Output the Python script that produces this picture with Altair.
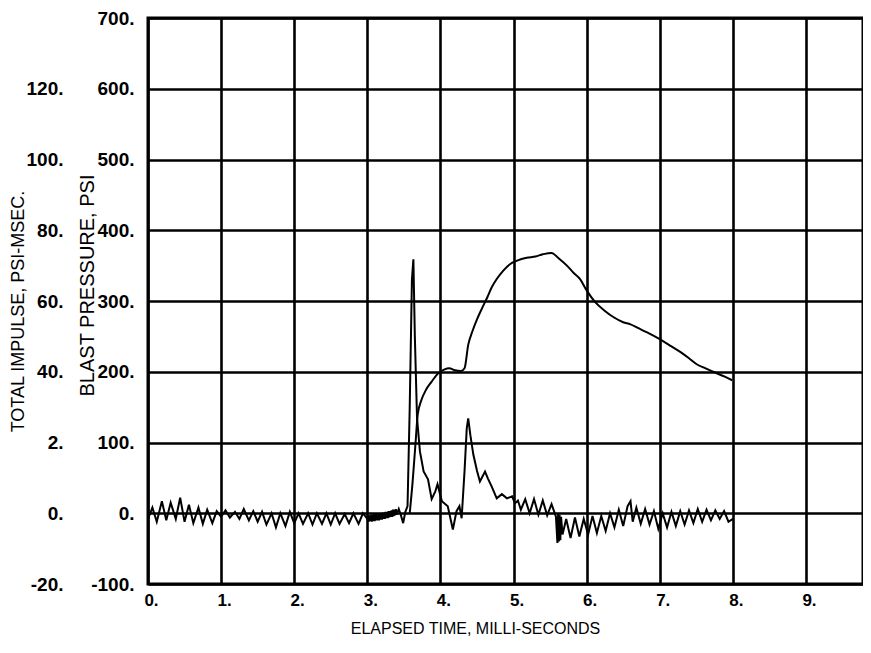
import altair as alt
import pandas as pd

# ---- data ----
# Blast pressure trace (ms, psi)
p_time = [0.00, 0.06, 0.12, 0.19, 0.25, 0.31, 0.38, 0.44, 0.50, 0.56, 0.62, 0.69, 0.75, 0.81, 0.88, 0.94,
          1.00, 1.06, 1.12, 1.19, 1.25, 1.31, 1.38, 1.44, 1.50, 1.56, 1.62, 1.69, 1.75, 1.81, 1.88, 1.94,
          2.00, 2.06, 2.12, 2.19, 2.25, 2.31, 2.38, 2.44, 2.50, 2.56, 2.62, 2.69, 2.75, 2.81, 2.88, 2.94,
          3.00, 3.01, 3.02, 3.03, 3.04, 3.05, 3.06, 3.07, 3.08, 3.09, 3.10, 3.11, 3.12, 3.13, 3.14, 3.15,
          3.16, 3.17, 3.18, 3.19, 3.20, 3.21, 3.22, 3.23, 3.24, 3.25, 3.26, 3.27, 3.28, 3.29, 3.30, 3.31,
          3.32, 3.33, 3.34, 3.35, 3.36, 3.37, 3.38, 3.39, 3.40, 3.43, 3.46, 3.49, 3.52, 3.55, 3.58, 3.61,
          3.63, 3.65, 3.68, 3.72, 3.77, 3.83, 3.88, 3.93, 3.96, 4.02, 4.10, 4.17, 4.22, 4.26, 4.29, 4.33,
          4.36, 4.38, 4.41, 4.45, 4.50, 4.54, 4.61, 4.65, 4.70, 4.77, 4.84, 4.91, 4.98, 5.02, 5.06, 5.10,
          5.16, 5.22, 5.28, 5.34, 5.40, 5.46, 5.52, 5.58, 5.60, 5.61, 5.62, 5.63, 5.64, 5.65, 5.67, 5.72,
          5.78, 5.84, 5.90, 5.96, 6.02, 6.08, 6.14, 6.20, 6.26, 6.32, 6.38, 6.44, 6.50, 6.56, 6.60, 6.63,
          6.68, 6.74, 6.80, 6.86, 6.92, 6.98, 7.04, 7.10, 7.16, 7.22, 7.28, 7.34, 7.40, 7.46, 7.52, 7.58,
          7.64, 7.70, 7.76, 7.82, 7.88, 7.94, 8.00]
p_psi = [-8, 8, -12, 17, -10, 15, -8, 22, -12, 12, -14, 8, -15, 5, -14, 3,
         -5, 4, -6, 2, -8, 6, -10, 3, -12, 2, -16, 0, -20, 0, -18, 2,
         -14, 0, -15, 0, -16, 0, -15, 0, -16, 0, -15, -1, -14, 0, -15, 0,
         -8, -2, -12, -3, -11, -2, -12, -2, -11, -1, -11, -1, -10, -1, -10, 0,
         -10, 0, -9, 0, -9, 1, -8, 1, -8, 2, -7, 2, -7, 3, -6, 3,
         -5, 4, -5, 5, -4, 5, -3, 6, -2, 6, -3, -14, 2, 10, 150, 330,
         359, 250, 134, 87, 59, 48, 20, 31, 41, 17, 10, -23, 3, 10, -7, 60,
         120, 134, 110, 83, 60, 45, 59, 49, 38, 21, 27, 21, 24, 14, 18, 5,
         20, 0, 20, -2, 18, -3, 13, -5, -42, 0, -40, -2, -38, -5, -30, -8,
         -35, -6, -33, -8, -30, -4, -28, -4, -25, 0, -20, 5, -18, 10, 17, -12,
         8, -15, 6, -16, 3, -22, 0, -20, 2, -18, 3, -16, 4, -14, 6, -12,
         5, -10, 4, -8, 3, -12, -8]

# Total impulse trace (ms, psi-msec)
i_time = [3.58, 3.62, 3.66, 3.69, 3.74, 3.80, 3.88, 3.97, 4.05, 4.12, 4.20, 4.28, 4.33, 4.38, 4.44, 4.50,
          4.57, 4.64, 4.70, 4.77, 4.86, 4.95, 5.05, 5.18, 5.30, 5.40, 5.52, 5.62, 5.73, 5.82, 5.91, 6.00,
          6.12, 6.25, 6.37, 6.50, 6.60, 6.70, 6.82, 7.00, 7.14, 7.28, 7.40, 7.50, 7.62, 7.73, 7.89, 7.99]
i_val = [0, 9, 20, 28, 32, 34.8, 37.2, 39.6, 40.6, 41, 40.4, 40.2, 41, 47.6, 51.6, 54.8,
         58, 61, 63.8, 66.2, 68.6, 70.4, 71.4, 72.2, 72.6, 73.2, 73.6, 72, 70, 68, 66.2, 63,
         59.6, 57.2, 55.4, 54, 53.4, 52.4, 51.2, 49.2, 47.4, 45.6, 43.8, 42.2, 41, 40, 38.6, 37.6]

x_ticks = [0, 1, 2, 3, 4, 5, 6, 7, 8, 9]
p_ticks = [-100, 0, 100, 200, 300, 400, 500, 600, 700]
i_ticks = [-20, 0, 20, 40, 60, 80, 100, 120]

pressure = pd.DataFrame({"t": p_time, "p": p_psi})
impulse = pd.DataFrame({"t": i_time, "imp": i_val})

FONT = "Liberation Sans"
X_DOMAIN = [0, 9.78]

x_enc = alt.X(
    "t:Q",
    scale=alt.Scale(domain=X_DOMAIN, nice=False, zero=False),
    axis=alt.Axis(
        values=x_ticks, labelExpr="datum.value + '.'",
        title="ELAPSED TIME, MILLI-SECONDS", titleX=327, titleY=44,
        titleBaseline="middle", titleAlign="center", titleFontSize=16,
        labelPadding=8, labelAlign="center", labelOffset=3, labelFontSize=17,
        grid=True, gridColor="black", gridWidth=2.6, gridOpacity=1,
        ticks=False, domain=False,
    ),
)

p_line = alt.Chart(pressure).mark_line(color="black", strokeWidth=2).encode(
    x=x_enc,
    y=alt.Y(
        "p:Q",
        scale=alt.Scale(domain=[-100, 700], nice=False, zero=False),
        axis=alt.Axis(
            orient="left", values=p_ticks,
            labelExpr="datum.value + '.'",
            title="BLAST PRESSURE, PSI", titleX=-61, titleY=267, titleAngle=-90,
            titleBaseline="middle", titleAlign="center", titleFontSize=20,
            labelPadding=14, labelBaseline="middle", labelFontSize=19,
            grid=True, gridColor="black", gridWidth=2.6, gridOpacity=1,
            ticks=False, domain=False,
        ),
    ),
)

i_line = alt.Chart(impulse).mark_line(color="black", strokeWidth=2, interpolate="monotone").encode(
    x=alt.X("t:Q", scale=alt.Scale(domain=X_DOMAIN, nice=False, zero=False)),
    y=alt.Y(
        "imp:Q",
        scale=alt.Scale(domain=[-20, 140], nice=False, zero=False),
        axis=alt.Axis(
            orient="left", offset=70, values=i_ticks,
            labelExpr="datum.value == 20 ? '2.' : datum.value + '.'",
            title="TOTAL IMPULSE, PSI-MSEC.", titleX=-60, titleY=293, titleAngle=-90,
            titleBaseline="middle", titleAlign="center", titleFontSize=18,
            labelPadding=15, labelBaseline="middle", labelFontSize=19,
            grid=False, ticks=False, domain=False,
        ),
    ),
)

chart = (
    alt.layer(p_line, i_line)
    .resolve_scale(y="independent")
    .properties(
        width=715, height=566,
        autosize=alt.AutoSizeParams(type="none"),
        padding={"left": 140, "top": 10, "right": 0, "bottom": 60},
        background="white",
    )
    .configure_view(stroke="black", strokeWidth=3)
    .configure_axis(labelFont=FONT, titleFont=FONT, labelFontWeight="bold",
                    labelColor="black", titleColor="black", titleFontWeight="normal")
)

chart.save("out.html", embed_options={"renderer": "svg", "actions": False})
